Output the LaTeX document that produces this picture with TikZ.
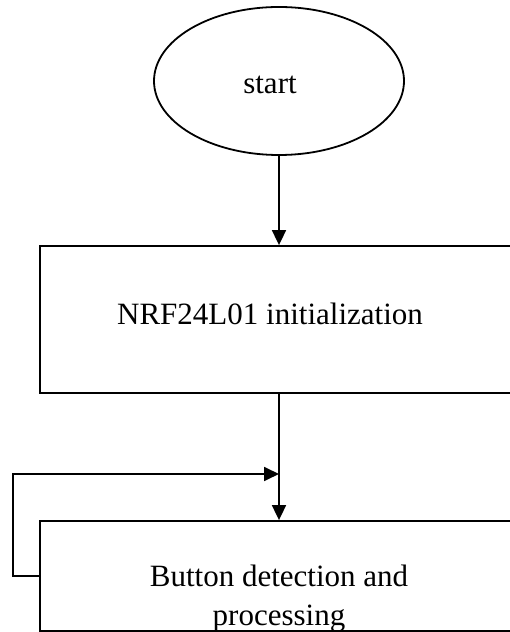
\documentclass[tikz,border=0pt]{standalone}
\usepackage{fontspec}
\setmainfont{Liberation Serif}
\usetikzlibrary{arrows.meta, positioning, shapes.geometric}
\tikzset{
  every picture/.style={line width=0.9pt},
  flowtext/.style={font=\fontsize{15.5}{19.5}\selectfont, align=center},
  terminal/.style={ellipse, draw, flowtext, minimum width=125pt, minimum height=74pt},
  process/.style={draw, flowtext, minimum width=239pt, inner sep=0pt},
  flow/.style={-{Triangle[length=7.5pt, width=7pt]}},
}

\begin{document}
\begin{tikzpicture}
  \useasboundingbox (0,0) rectangle (254.5pt,316pt);
  \node[terminal] (start) at (139.5pt,275.5pt) {\raisebox{-2pt}[\height][\depth]{start}\hspace*{9pt}};
  \node[process, minimum height=73.5pt] (init) at (139.5pt,156.25pt) {\raisebox{6pt}{NRF24L01 initialization}\hspace*{9pt}};
  \node[process, minimum height=55pt] (proc) at (139.5pt,28pt) {};
  \node[flowtext, anchor=north] (proctext) at (139.5pt,37.5pt) {Button detection and\\processing};
  \coordinate (join) at (139.5pt,79pt);
  % main flow
  \draw[flow] (start) -- (init);
  \draw[flow] (init) -- (proc);
  % loop back
  \draw[flow] (proc.west) -| (6.5pt,79pt) -- (join);
\end{tikzpicture}
\end{document}
